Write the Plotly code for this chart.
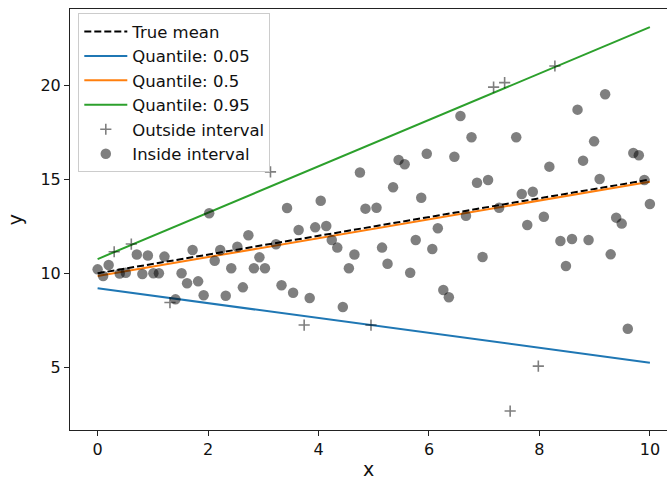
import plotly.graph_objects as go

# ---- data ----
line_x = [0, 10]
true_mean_y = [10.0, 15.0]
q05_y = [9.20, 5.23]
q50_y = [9.86, 14.89]
q95_y = [10.76, 23.13]

x_outside = [0.30, 0.61, 1.31, 3.13, 3.74, 4.95, 7.17, 7.37, 7.47, 7.98, 8.28]
y_outside = [11.15, 11.56, 8.44, 15.41, 7.24, 7.24, 19.93, 20.17, 2.65, 5.05, 21.06]

x_inside = [0.00, 0.10, 0.20, 0.40, 0.51, 0.71, 0.81, 0.91, 1.01, 1.11, 1.21,
            1.41, 1.52, 1.62, 1.72, 1.82, 1.92, 2.02, 2.12, 2.22, 2.32, 2.42,
            2.53, 2.63, 2.73, 2.83, 2.93, 3.03, 3.23, 3.33, 3.43, 3.54, 3.64,
            3.84, 3.94, 4.04, 4.14, 4.24, 4.34, 4.44, 4.55, 4.65, 4.75, 4.85,
            5.05, 5.15, 5.25, 5.35, 5.45, 5.56, 5.66, 5.76, 5.86, 5.96, 6.06,
            6.16, 6.26, 6.36, 6.46, 6.57, 6.67, 6.77, 6.87, 6.97, 7.07, 7.27,
            7.58, 7.68, 7.78, 7.88, 8.08, 8.18, 8.38, 8.48, 8.59, 8.69, 8.79,
            8.89, 8.99, 9.09, 9.19, 9.29, 9.39, 9.49, 9.60, 9.70, 9.80, 9.90,
            10.00]
y_inside = [10.21, 9.86, 10.44, 9.99, 10.03, 11.00, 9.96, 10.95, 10.00, 10.00, 10.89,
            8.61, 10.00, 9.47, 11.24, 9.57, 8.83, 13.20, 10.67, 11.24, 8.80, 10.27,
            11.42, 9.25, 12.03, 10.27, 10.85, 10.27, 11.55, 9.36, 13.48, 8.96, 12.31,
            8.68, 12.45, 13.87, 12.52, 11.78, 11.37, 8.20, 10.27, 11.00, 15.38, 13.45,
            13.50, 11.37, 10.51, 14.59, 16.05, 15.82, 10.03, 11.78, 14.03, 16.38, 11.30,
            12.40, 9.11, 8.72, 16.22, 18.39, 13.07, 17.26, 14.83, 10.87, 14.98, 13.50,
            17.26, 14.23, 12.58, 14.35, 13.02, 15.69, 11.72, 10.39, 11.83, 18.73, 16.01,
            11.78, 17.04, 15.03, 19.55, 11.01, 12.97, 12.65, 7.04, 16.42, 16.30, 14.98,
            13.70]

x_ticks = [0, 2, 4, 6, 8, 10]
y_ticks = [5, 10, 15, 20]

FONT = "DejaVu Sans"

fig = go.Figure()
fig.add_trace(go.Scatter(x=line_x, y=true_mean_y, mode="lines", name="True mean",
                         line=dict(color="black", width=2, dash="7px,3px")))
fig.add_trace(go.Scatter(x=line_x, y=q05_y, mode="lines", name="Quantile: 0.05",
                         line=dict(color="#1f77b4", width=2)))
fig.add_trace(go.Scatter(x=line_x, y=q50_y, mode="lines", name="Quantile: 0.5",
                         line=dict(color="#ff7f0e", width=2)))
fig.add_trace(go.Scatter(x=line_x, y=q95_y, mode="lines", name="Quantile: 0.95",
                         line=dict(color="#2ca02c", width=2)))
fig.add_trace(go.Scatter(x=x_outside, y=y_outside, mode="markers", name="Outside interval",
                         marker=dict(symbol="cross-thin", size=8,
                                     line=dict(color="rgba(0,0,0,0.5)", width=1.6))))
fig.add_trace(go.Scatter(x=x_inside, y=y_inside, mode="markers", name="Inside interval",
                         marker=dict(symbol="circle", size=10.5, color="rgba(0,0,0,0.5)",
                                     line=dict(width=0))))

fig.update_layout(
    width=667, height=480,
    margin=dict(l=70, r=0, t=9, b=50),
    paper_bgcolor="white", plot_bgcolor="white",
    font=dict(family=FONT, size=16, color="#111111"),
    showlegend=True,
    legend=dict(x=0.0139, y=0.99, xanchor="left", yanchor="top", itemwidth=43,
                bgcolor="rgba(255,255,255,0.85)", bordercolor="#cccccc", borderwidth=1,
                font=dict(family=FONT, size=16.5, color="#111111"),
                tracegroupgap=0),
)
fig.update_xaxes(range=[-0.5, 10.31], tickvals=x_ticks, ticks="outside", ticklen=5,
                 tickwidth=1, tickcolor="#222", showline=True, linecolor="#222", linewidth=1,
                 mirror=True, showgrid=False, zeroline=False,
                 title=dict(text="x", standoff=6))
fig.update_yaxes(range=[1.64, 24.10], tickvals=y_ticks, ticks="outside", ticklen=5,
                 tickwidth=1, tickcolor="#222", showline=True, linecolor="#222", linewidth=1,
                 showgrid=False, zeroline=False,
                 title=dict(text="y", standoff=12))

fig.write_html("out.html")
